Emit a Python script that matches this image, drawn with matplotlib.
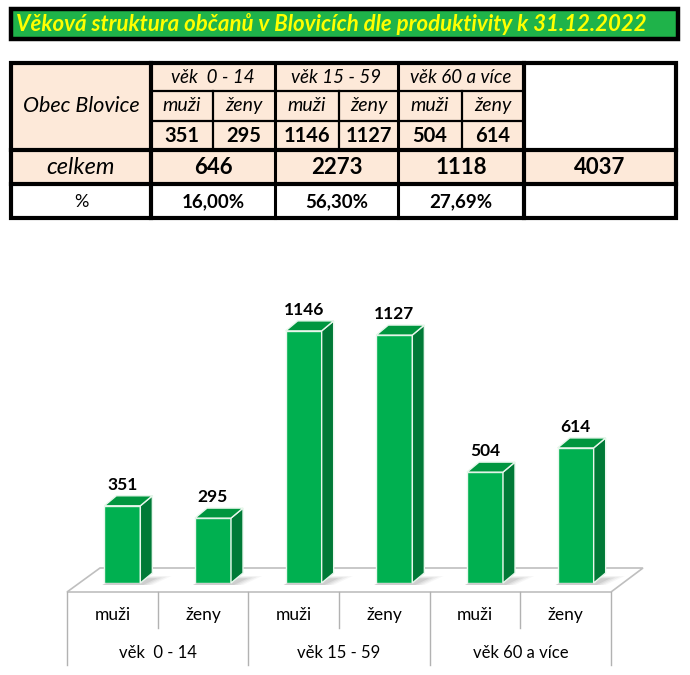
import numpy as np
import matplotlib
matplotlib.use('Agg')
import matplotlib.pyplot as plt
from matplotlib.patches import Rectangle, Polygon
from matplotlib.transforms import blended_transform_factory
from matplotlib import font_manager

# data
title = 'Věková struktura občanů v Blovicích dle produktivity k 31.12.2022'
place = 'Obec Blovice'
groups = ['věk  0 - 14', 'věk 15 - 59', 'věk 60 a více']
sexes = ['muži', 'ženy']
values = [351, 295, 1146, 1127, 504, 614]

totals = [values[2 * g] + values[2 * g + 1] for g in range(len(groups))]
total_all = sum(totals)
pcts = [('%.2f' % (100 * t / total_all)).replace('.', ',') + '%' for t in totals]

names = {f.name for f in font_manager.fontManager.ttflist}
plt.rcParams['font.family'] = ['Lato', 'DejaVu Sans'] if 'Lato' in names else ['DejaVu Sans']

W, H = 690, 675
fig = plt.figure(figsize=(W / 100, H / 100), dpi=100)

# overlay axes in pixel units for title, table and floor
ov = fig.add_axes([0, 0, 1, 1], zorder=0)
ov.set_xlim(0, W)
ov.set_ylim(H, 0)
ov.axis('off')

# title bar
ov.add_patch(Rectangle((11, 9), 667, 30, facecolor='#1fb34a', edgecolor='black', lw=3.2))
ov.text(16, 24.5, title, color='#ffff00', fontsize=16, fontweight='bold',
        fontstyle='italic', ha='left', va='center')

# table
peach = '#fde9d9'
cx = [11, 151, 213, 275, 339, 398, 462, 524, 676]
ry = [63, 90.5, 121, 150, 183.5, 218]

ov.add_patch(Rectangle((cx[0], ry[0]), cx[7] - cx[0], ry[3] - ry[0], fc=peach, ec='none'))
ov.add_patch(Rectangle((cx[0], ry[3]), cx[8] - cx[0], ry[4] - ry[3], fc=peach, ec='none'))


def hline(y, x0, x1, lw):
    ov.plot([x0, x1], [y, y], color='black', lw=lw, solid_capstyle='projecting')


def vline(x, y0, y1, lw):
    ov.plot([x, x], [y0, y1], color='black', lw=lw, solid_capstyle='projecting')


thick, mid, thin = 3.0, 2.2, 1.6
hline(ry[1], cx[1], cx[7], thin)
hline(ry[2], cx[1], cx[7], thin)
hline(ry[3], cx[0], cx[8], thick)
hline(ry[4], cx[0], cx[8], thick)
vline(cx[1], ry[0], ry[5], thick)
vline(cx[3], ry[0], ry[5], mid)
vline(cx[5], ry[0], ry[5], mid)
vline(cx[7], ry[0], ry[5], thick)
for c in (cx[2], cx[4], cx[6]):
    vline(c, ry[1], ry[3], thin)
ov.add_patch(Rectangle((cx[0], ry[0]), cx[8] - cx[0], ry[5] - ry[0], fc='none',
                       ec='black', lw=thick))

ov.text((cx[0] + cx[1]) / 2, (ry[0] + ry[3]) / 2, place, fontsize=15.5, fontstyle='italic',
        ha='center', va='center')
for g in range(len(groups)):
    gx = (cx[1 + 2 * g] + cx[3 + 2 * g]) / 2
    ov.text(gx, (ry[0] + ry[1]) / 2 + 1, groups[g], fontsize=13.5, fontstyle='italic',
            ha='center', va='center')
    ov.text(gx, (ry[3] + ry[4]) / 2 + 1, str(totals[g]), fontsize=16, fontweight='bold',
            ha='center', va='center')
    ov.text(gx, (ry[4] + ry[5]) / 2 + 1, pcts[g], fontsize=13.5, fontweight='bold',
            ha='center', va='center')
for i, v in enumerate(values):
    sx = (cx[1 + i] + cx[2 + i]) / 2
    ov.text(sx, (ry[1] + ry[2]) / 2, sexes[i % 2], fontsize=14, fontstyle='italic',
            ha='center', va='center')
    ov.text(sx, (ry[2] + ry[3]) / 2 + 1, str(v), fontsize=14.5, fontweight='bold',
            ha='center', va='center')
ov.text((cx[0] + cx[1]) / 2, (ry[3] + ry[4]) / 2 + 1, 'celkem', fontsize=17,
        fontstyle='italic', ha='center', va='center')
ov.text((cx[7] + cx[8]) / 2, (ry[3] + ry[4]) / 2 + 1, str(total_all), fontsize=16,
        fontweight='bold', ha='center', va='center')
ov.text((cx[0] + cx[1]) / 2, (ry[4] + ry[5]) / 2 + 1, '%', fontsize=13,
        ha='center', va='center')

# floor of the 3d chart
ov.add_patch(Polygon([(67, 592), (611, 592), (643, 568), (100, 568)], closed=True,
                     fc='white', ec='#bfbfbf', lw=1.2))

# chart axes
n = len(values)
k = 0.22          # px per unit
ymax = 1300
ppd = 544 / n     # px per category
ax = fig.add_axes([67 / W, (H - 583) / H, 544 / W, ymax * k / H], zorder=2)
ax.set_xlim(-0.5, n - 0.5)
ax.set_ylim(0, ymax)
ax.axis('off')
ax.patch.set_alpha(0)

dx = 12 / ppd
dy = 10 / k
bw = 36 / ppd
x = np.arange(n) + 10 / ppd
green, side_c, top_c, edge = '#00b050', '#007a37', '#00963f', '#e8f7ec'

# soft shadow on the floor behind each bar
for xi, v in zip(x, values):
    left, right = xi - bw / 2, xi + bw / 2
    for s, a in ((12, 0.05), (9, 0.07), (6, 0.09), (3, 0.12)):
        ax.add_patch(Polygon([(left - 2 / ppd, -2 / k), (right + s / ppd, -2 / k),
                              (right + dx + 1.6 * s / ppd, dy * 0.4 + s * 0.25 / k),
                              (left + dx, dy * 0.4 + s * 0.25 / k)],
                             closed=True, fc='#606060', ec='none', alpha=a, clip_on=False,
                             zorder=1))
ax.bar(x, values, bw, color=green, edgecolor=edge, lw=1, zorder=3)
for xi, v in zip(x, values):
    left, right = xi - bw / 2, xi + bw / 2
    ax.add_patch(Polygon([(right, 0), (right, v), (right + dx, v + dy), (right + dx, dy)],
                         closed=True, fc=side_c, ec=edge, lw=1, zorder=3, clip_on=False))
    ax.add_patch(Polygon([(left, v), (right, v), (right + dx, v + dy), (left + dx, v + dy)],
                         closed=True, fc=top_c, ec=edge, lw=1, zorder=3, clip_on=False))
    ax.text(xi, v + dy + 3 / k, str(v), ha='center', va='bottom', fontsize=12.5,
            fontweight='bold', clip_on=False)

# category axis as a two-level table
trans = blended_transform_factory(ax.transData, ov.transData)
for b in range(n + 1):
    bx = b - 0.5
    y1 = 665 if b % 2 == 0 else 628
    ax.plot([bx, bx], [592, y1], color='#b2b2b2', lw=1, transform=trans, clip_on=False)
for i in range(n):
    ax.text(i, 615, sexes[i % 2], transform=trans, ha='center', va='center', fontsize=12.5)
for g in range(len(groups)):
    ax.text(2 * g + 0.5, 653, groups[g], transform=trans, ha='center', va='center', fontsize=12)

fig.savefig('out.png', dpi=100)
